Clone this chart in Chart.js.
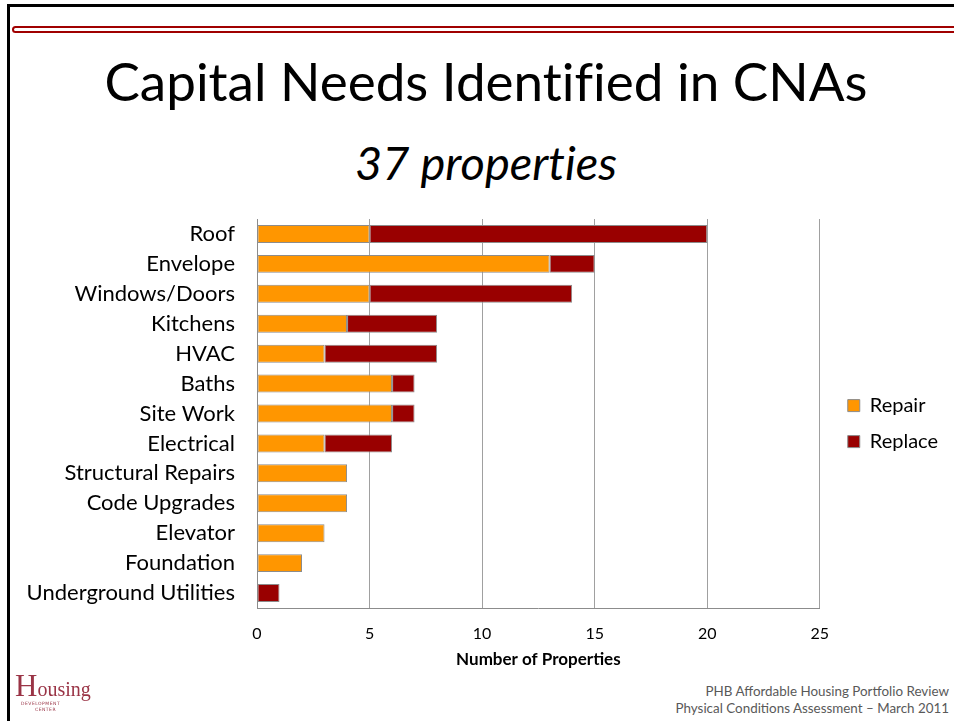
<!DOCTYPE html>
<html>
<head>
<meta charset="utf-8">
<script src="https://cdn.jsdelivr.net/npm/chart.js@4.4.1/dist/chart.umd.min.js"></script>
<style>
  body { margin: 0; background: #fff; font-family: Lato, "Open Sans", sans-serif; }
  #slide { position: relative; width: 954px; height: 721px; overflow: hidden; background: #fff; }
  #frame { position: absolute; left: 7px; top: 4px; width: 1000px; height: 800px;
           border-left: 3px solid #000; border-top: 3px solid #000; }
  #rule { position: absolute; left: 12px; top: 26px; width: 1000px; height: 3px;
          border: 2px solid #a00000; border-radius: 4px 0 0 4px; background: #fff; }
  #title { position: absolute; left: 0; width: 972px; top: 49px; text-align: center;
           font-size: 53px; color: #000; font-variant-ligatures: none; }
  #subtitle { position: absolute; left: 0; width: 972px; top: 134px; text-align: center;
              font-size: 47px; font-style: italic; color: #000; font-variant-ligatures: none; }
  #chartBox { position: absolute; left: 0; top: 200px; width: 954px; height: 480px; }
  #footer { position: absolute; right: 5px; top: 683px; text-align: right;
            font-size: 13.4px; line-height: 17px; color: #595959; }
  #logo { position: absolute; left: 15px; top: 672px; color: #9a3446; font-family: "Liberation Serif", serif; }
  #logo .big { font-size: 31px; line-height: 28px; }
  #logo .word { font-size: 20px; }
  #logo .small { font-family: "DejaVu Sans", sans-serif; font-size: 4.5px; letter-spacing: 0.5px; line-height: 6px; }
</style>
</head>
<body>
<div id="slide">
  <div id="frame"></div>
  <div id="rule"></div>
  <div id="title">Capital Needs Identified in CNAs</div>
  <div id="subtitle">37 properties</div>
  <div id="chartBox"><canvas id="cnaChart"></canvas></div>
  <div id="logo">
    <div><span class="big">H</span><span class="word">ousing</span></div>
    <div class="small" style="margin-left:6px">DEVELOPMENT</div>
    <div class="small" style="margin-left:20px">CENTER</div>
  </div>
  <div id="footer">PHB Affordable Housing Portfolio Review<br>Physical Conditions Assessment – March 2011</div>
</div>
<script>
// Categorie e valori
const categories = ['Roof', 'Envelope', 'Windows/Doors', 'Kitchens', 'HVAC', 'Baths', 'Site Work',
  'Electrical', 'Structural Repairs', 'Code Upgrades', 'Elevator', 'Foundation', 'Underground Utilities'];
const repairValues = [5, 13, 5, 4, 3, 6, 6, 3, 4, 4, 3, 2, 0];
const replaceValues = [15, 2, 9, 4, 5, 1, 1, 3, 0, 0, 0, 0, 1];
const xTicks = [0, 5, 10, 15, 20, 25];

const ctx = document.getElementById('cnaChart').getContext('2d');
const cnaChart = new Chart(ctx, {
  type: 'bar',
  data: {
    labels: categories,
    datasets: [{
      label: 'Repair',
      data: repairValues,
      backgroundColor: '#ff9600',
      borderColor: '#8c8c8c',
      borderWidth: 1,
      borderSkipped: false
    }, {
      label: 'Replace',
      data: replaceValues,
      backgroundColor: '#990000',
      borderColor: '#8c8c8c',
      borderWidth: 1,
      borderSkipped: false
    }]
  },
  options: {
    indexAxis: 'y',
    responsive: true,
    maintainAspectRatio: false,
    animation: false,
    datasets: { bar: { categoryPercentage: 1, barPercentage: 0.6 } },
    layout: { padding: { top: 19, left: 0, right: 6, bottom: 0 } },
    plugins: {
      tooltip: { enabled: false },
      legend: {
        position: 'right',
        fullSize: false,
        // titolo vuoto solo per spostare la legenda un po' in basso
        title: { display: true, text: ' ', font: { size: 1 }, padding: { top: 19, bottom: 0 } },
        labels: {
          boxWidth: 12, boxHeight: 12, padding: 16, color: '#000',
          font: { family: 'Lato', size: 20 }
        }
      }
    },
    scales: {
      x: {
        stacked: true,
        min: 0, max: 25,
        afterBuildTicks: (scale) => { scale.ticks = xTicks.map(v => ({ value: v })); },
        grid: { color: '#a0a0a0', drawTicks: false },
        border: { color: '#8c8c8c' },
        ticks: { color: '#000', padding: 16, font: { family: 'Lato', size: 16 } },
        title: { display: true, text: 'Number of Properties', color: '#000',
                 font: { family: 'Lato', size: 17, weight: 'bold' }, padding: { top: 4, bottom: 10 } },
        afterFit: (scale) => { scale.height = 72; }
      },
      y: {
        stacked: true,
        grid: { display: false, drawTicks: false },
        border: { color: '#8c8c8c' },
        ticks: { color: '#000', padding: 22, autoSkip: false, font: { family: 'Lato', size: 22 } },
        afterFit: (scale) => {
          scale.width = 257;
          scale.paddingTop = 0;
          scale.paddingBottom = 0;
        }
      },
      // spazio vuoto tra area del grafico e legenda
      gap: {
        type: 'category',
        position: 'right',
        display: true,
        grid: { display: false, drawTicks: false },
        border: { display: false },
        ticks: { display: false },
        afterFit: (scale) => { scale.width = 12; }
      }
    }
  }
});
</script>
</body>
</html>
